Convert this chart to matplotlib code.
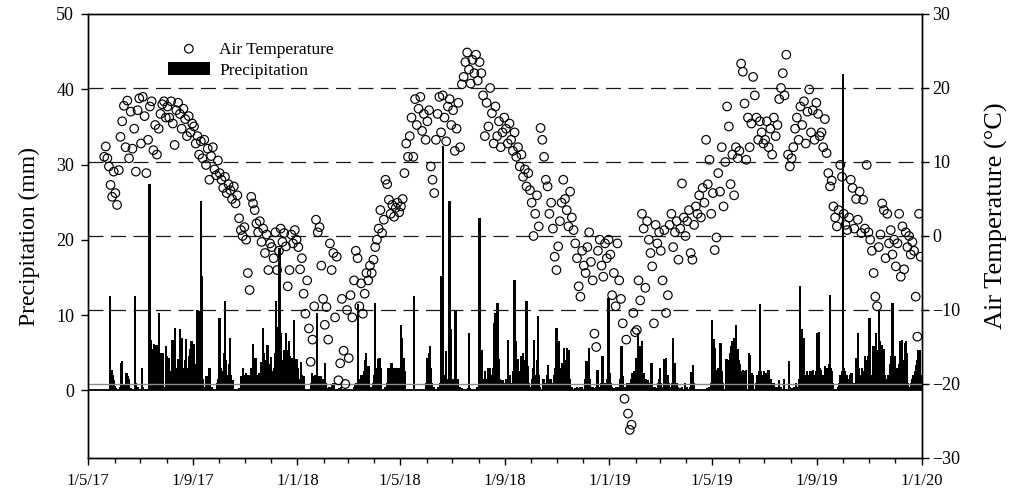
import numpy as np
import pandas as pd
import matplotlib
matplotlib.use("Agg")
import matplotlib.pyplot as plt
import matplotlib.dates as mdates
from matplotlib.ticker import FuncFormatter

plt.rcParams['font.family'] = ['Liberation Serif', 'DejaVu Serif']

# ---------------- data ----------------
origin = pd.Timestamp('2017-05-01')
first_temp_day = pd.Timestamp('2017-05-19')

# Air temperature (deg C), one list per month (values spread over the month)
temp_2017 = [
    [10.7, 12.1, 10.5, 9.4, 6.9, 5.3, 8.7],  # May (from 19th)
    [5.8, 4.2, 8.9, 13.4, 15.5, 17.6, 12.0, 18.3, 10.5, 16.8, 11.8, 14.5, 8.7, 17.0, 18.6],
    [12.5, 18.8, 16.2, 8.5, 13.0, 17.5, 18.2, 11.6, 15.0, 11.0, 14.5, 16.5, 17.8, 18.2, 16.0],
    [17.5, 16.0, 18.2, 15.2, 12.3, 17.0, 18.0, 16.5, 14.5, 17.2, 15.8, 13.5, 16.2, 14.0, 15.2],
    [14.8, 12.5, 13.5, 11.0, 12.8, 10.5, 13.0, 9.6, 11.8, 7.6, 10.8, 12.0, 9.0, 8.2, 10.2],
    [8.5, 7.6, 6.5, 8.0, 5.8, 7.0, 6.2, 5.0, 6.7, 4.4, 5.5, 2.4, 0.8, 0.0, 1.2],
    [-0.5, -5.0, -7.3, 5.3, 4.4, 3.5, 1.7, 0.5, 2.0, -0.8, 1.0, -2.3, 0.2, -4.6, -1.0],
    [-1.5, -3.0, 0.5, -4.6, -2.0, 1.0, -0.8, 0.4, -1.4, -6.8, -4.6, 0.2, -1.0, 0.8, -0.5],
]
temp_2018 = [
    [-1.5, -4.5, -3.0, -7.8, -10.5, -6.0, -12.5, -17.0, -14.0, -9.5, 2.2, 0.5, 1.2, -4.0, -8.5],
    [-12.0, -9.6, -14.0, -1.0, -4.6, -2.3, -11.0, -2.8, -19.5, -17.2, -8.5, -15.5, -20.0, -10.0],
    [-16.5, -8.0, -11.0, -6.0, -2.0, -3.0, -9.5, -6.4, -10.5, -7.8, -5.0, -6.0, -4.0, -5.0, -3.2],
    [-1.5, -0.5, 1.0, 3.5, 0.4, 2.2, 7.6, 7.0, 4.9, 3.0, 4.2, 2.6, 3.8, 4.5, 3.2],
    [4.0, 5.0, 8.5, 12.5, 10.7, 13.5, 16.0, 10.7, 18.5, 15.0, 17.2, 18.8, 14.2, 16.5, 13.0],
    [15.5, 17.0, 9.4, 7.6, 5.8, 13.0, 16.5, 18.8, 14.0, 19.0, 16.0, 12.8, 17.5, 18.5, 15.0],
    [17.0, 11.5, 14.5, 18.0, 12.0, 20.5, 21.5, 23.5, 24.8, 22.5, 20.6, 23.8, 22.0, 24.5, 21.0],
    [23.5, 22.0, 19.0, 13.5, 18.0, 14.8, 20.0, 16.6, 12.5, 17.5, 13.5, 15.5, 12.0, 14.0, 16.0],
    [14.5, 12.5, 15.2, 13.0, 11.5, 14.0, 10.7, 12.0, 9.4, 11.0, 8.0, 9.0, 6.7, 8.5, 6.2],
    [4.5, 0.0, 3.0, 5.5, 1.3, 14.6, 13.0, 10.7, 7.6, 6.7, 3.0, 4.5, 1.0, -2.8, -4.6],
    [-1.4, 2.0, 4.5, 7.6, 5.0, 3.5, 1.3, 6.0, 2.5, 0.8, -1.0, -3.0, -6.8, -8.2, -2.0],
    [-4.0, -5.0, -1.5, 0.5, -3.5, -6.0, -13.2, -15.0, -2.0, -0.5, -4.0, -5.5, -1.0, -3.0, -0.5],
]
temp_2019 = [
    [-2.5, -8.0, -5.0, -9.5, -1.0, -6.0, -8.5, -11.8, -22.0, -14.0, -24.0, -26.2, -25.5, -10.4, -13.0],
    [-12.7, -6.0, -8.7, 3.0, 1.0, -7.0, 2.0, -0.5, -2.3, -4.1, -11.8, 1.5, -1.0, 0.5],
    [-2.0, -6.0, 0.8, -10.4, -8.0, 1.5, 3.0, -1.5, 0.5, 2.0, -3.2, 1.0, 7.1, 2.5, 0.0],
    [2.0, 3.5, -2.3, -3.2, 1.5, 4.0, 3.0, 5.5, 2.5, 6.5, 4.5, 13.0, 7.0, 10.3, 3.0],
    [5.8, -1.9, -0.2, 8.5, 6.0, 12.0, 4.0, 10.0, 17.5, 14.8, 7.0, 11.0, 5.5, 12.0, 10.5],
    [11.5, 23.3, 22.2, 17.9, 10.3, 16.0, 12.0, 15.2, 21.5, 19.0, 16.0, 13.0, 15.5, 14.0, 12.5],
    [13.0, 15.5, 12.0, 14.5, 11.0, 16.0, 13.5, 15.0, 18.5, 20.0, 22.0, 19.0, 24.5, 11.0, 9.4],
    [10.5, 12.0, 14.5, 16.0, 13.0, 17.5, 15.0, 18.2, 12.5, 16.8, 19.8, 14.0, 17.0, 13.0, 18.0],
    [16.5, 13.5, 14.0, 12.0, 15.8, 11.2, 8.5, 6.7, 7.5, 4.0, 2.5, 1.3, 3.5, 9.6, 8.0],
    [3.0, 1.5, 0.8, 2.5, 7.6, 6.5, 1.0, 5.0, 2.2, 6.0, 0.4, 4.9, 1.0, 9.6, 0.5],
    [-0.5, -2.0, -5.0, -8.2, -9.5, -1.5, 0.2, 4.4, 3.5, -3.0, 3.0, -1.0, 0.8, -2.5, -0.5],
    [-4.1, -1.0, 3.0, -5.5, 1.3, -4.5, 0.5, -1.5, 0.0, -2.5, -0.8, -2.0, -8.2, -13.6, 3.0, -2.8],
]

# Daily precipitation (mm): (day since 1 May 2017, amount)
rain_2017 = [(26,12.5),(27,2.5),(28,2.7),(29,2.0),(30,1.4),(31,0.6),(33,0.3),(38,0.4),(39,3.6),(40,3.9),(42,0.8),(45,2.3),(46,1.0),(47,1.9),(48,1.5),(50,0.3),(55,12.5),(56,1.0),(58,0.5),(63,3.0),(64,0.4),(71,10.3),(72,27.4),(73,5.5),(74,6.7),(75,5.2),(76,5.5),(77,6.2),(78,5.0),(79,4.5),(80,6.0),(81,3.0),(82,2.0),(83,10.3),(84,5.0),(85,3.5),(86,1.5),(87,5.0),(89,0.5),(91,5.9),(92,4.5),(93,2.0),(95,4.3),(96,2.5),(97,1.0),(99,6.7),(100,2.0),(102,8.3),(103,3.0),(104,1.5),(105,4.1),(106,2.5),(108,8.1),(110,7.0),(111,3.0),(112,1.5),(114,4.0),(115,6.8),(117,3.0),(118,4.5),(120,5.5),(121,6.5),(122,2.0),(124,6.2),(127,3.5),(128,10.7),(129,5.0),(130,10.5),(131,8.0),(132,25.1),(133,15.2),(134,1.5),(136,0.5),(138,1.9),(139,0.8),(141,1.9),(142,3.0),(143,0.5),(145,0.5),(151,1.0),(152,1.5),(153,2.0),(154,9.6),(155,3.0),(156,1.5),(158,2.5),(159,5.0),(160,11.8),(161,4.0),(163,2.0),(165,3.5),(166,7.0),(167,2.0),(169,1.4),(177,0.3),(179,1.9),(181,3.0),(182,1.0),(183,2.0),(184,1.5),(185,2.3),(186,2.0),(187,1.4),(188,2.0),(189,1.0),(191,3.0),(193,6.1),(194,3.0),(195,2.5),(196,4.3),(197,2.0),(198,1.5),(200,2.3),(201,1.0),(202,3.7),(203,2.0),(205,8.3),(206,5.0),(207,3.0),(208,4.0),(210,6.0),(211,3.5),(212,2.5),(213,3.0),(214,4.4),(215,2.0),(216,2.5),(217,1.5),(218,3.0),(219,5.0),(220,11.8),(221,8.4),(222,7.0),(223,5.0),(224,18.9),(225,6.0),(226,7.6),(227,4.0),(228,3.0),(229,5.0),(230,5.4),(231,3.5),(232,7.6),(233,4.0),(234,5.4),(235,6.5),(236,4.5),(237,3.0),(238,4.3),(239,2.5),(240,3.0),(241,9.4),(242,4.0),(243,2.0),(244,4.1)]
rain_2018 = [(245,3.0),(247,1.5),(249,3.8),(250,2.0),(252,1.0),(253,1.9),(261,1.0),(262,2.3),(263,1.5),(264,1.9),(265,1.4),(266,2.0),(267,1.5),(268,10.3),(269,1.5),(270,1.9),(271,1.0),(272,1.9),(274,1.5),(276,1.5),(277,3.6),(278,1.0),(280,0.3),(282,0.5),(284,0.4),(286,0.8),(287,1.0),(294,0.3),(296,0.4),(301,0.3),(311,0.5),(313,0.8),(314,1.0),(315,0.6),(316,11.4),(317,1.5),(319,1.4),(320,2.0),(321,1.0),(323,2.5),(324,4.0),(325,5.0),(326,3.0),(327,2.0),(328,3.2),(329,1.0),(331,0.5),(334,1.0),(335,2.0),(336,11.6),(337,3.0),(338,2.0),(339,4.1),(340,2.5),(341,4.3),(342,3.0),(343,1.0),(348,0.5),(350,1.0),(351,3.0),(352,1.5),(354,3.0),(355,3.6),(356,1.0),(358,3.0),(359,2.5),(360,3.0),(361,2.0),(362,3.0),(363,2.5),(364,3.0),(365,1.5),(366,8.7),(367,7.0),(368,3.0),(369,4.3),(370,2.0),(371,2.5),(381,12.5),(396,1.0),(397,4.3),(398,2.0),(399,5.0),(400,5.9),(401,3.0),(402,1.0),(404,0.4),(405,0.3),(410,0.5),(412,1.0),(413,15.2),(414,1.5),(415,32.5),(416,2.0),(417,1.0),(419,5.2),(420,1.5),(421,1.0),(423,25.1),(424,1.5),(425,8.1),(426,1.5),(427,1.0),(428,1.5),(429,1.0),(430,10.5),(431,1.5),(432,1.0),(433,1.5),(435,0.5),(437,0.3),(445,0.3),(446,7.6),(447,0.3),(455,0.5),(457,1.0),(458,22.9),(459,2.0),(460,1.0),(461,5.4),(462,1.5),(463,1.0),(464,2.5),(465,1.0),(467,1.5),(468,3.0),(469,1.0),(470,3.0),(471,0.5),(472,1.0),(473,2.0),(474,3.0),(475,9.0),(476,10.3),(477,3.0),(478,4.5),(479,11.6),(480,2.0),(481,4.1),(482,1.5),(483,1.0),(484,0.5),(485,1.4),(486,0.5),(487,1.0),(489,1.5),(491,6.7),(492,1.0),(493,0.5),(494,2.0),(495,1.0),(496,0.5),(497,2.5),(498,6.5),(499,14.7),(500,6.5),(501,4.0),(502,3.0),(503,4.1),(504,2.0),(505,1.5),(506,2.5),(507,4.5),(508,3.0),(509,5.0),(510,3.5),(511,4.0),(512,2.0),(513,11.8),(514,3.2),(515,2.0),(516,1.0),(517,0.5),(519,0.5),(520,1.5),(521,3.0),(522,6.7),(523,2.0),(524,1.0),(525,4.0),(526,9.9),(527,2.0),(528,0.5),(532,1.0),(533,1.5),(534,1.0),(535,0.5),(536,1.0),(537,2.0),(538,3.4),(539,1.0),(541,1.5),(542,0.5),(543,1.0),(545,2.0),(546,1.5),(547,3.0),(548,8.3),(549,4.0),(550,3.0),(551,6.5),(552,2.0),(553,3.0),(554,2.0),(555,3.6),(556,2.5),(557,5.6),(558,4.0),(559,3.0),(560,5.6),(561,2.0),(562,5.4),(563,2.0),(564,1.5),(566,0.5),(570,0.3),(572,0.5),(574,0.3),(576,0.4),(578,0.5),(581,1.0),(582,1.5),(583,3.9),(584,1.0),(585,2.0),(586,5.6),(587,1.5),(588,0.5),(590,0.5),(592,0.3),(594,0.5),(596,2.7),(597,0.5),(600,1.0),(601,1.5),(602,4.5),(603,1.0),(604,0.5),(606,1.0),(607,1.5),(608,2.0),(609,12.3)]
rain_2019 = [(610,2.0),(611,2.3),(612,1.0),(613,0.5),(616,0.3),(618,0.5),(620,0.4),(622,1.0),(623,1.5),(624,5.9),(625,1.0),(626,1.9),(627,0.5),(629,0.5),(631,1.0),(634,1.0),(635,1.5),(636,2.3),(637,1.0),(638,1.5),(639,2.5),(640,2.0),(641,4.3),(642,3.0),(643,7.6),(644,3.0),(645,5.9),(646,2.0),(647,3.0),(648,6.5),(649,2.0),(650,2.3),(651,1.0),(652,1.5),(653,0.5),(654,1.0),(655,1.4),(656,0.5),(657,1.0),(658,0.5),(659,3.6),(660,1.0),(661,0.5),(663,0.5),(665,0.3),(667,1.0),(668,1.5),(669,3.0),(670,1.0),(672,0.5),(674,4.1),(675,1.5),(676,4.3),(677,1.5),(678,2.0),(679,1.0),(681,0.5),(683,1.0),(684,7.0),(685,2.5),(686,3.6),(687,1.0),(688,0.5),(689,1.0),(690,0.5),(693,0.3),(695,0.5),(698,1.0),(699,0.5),(701,0.4),(704,0.5),(706,2.4),(707,1.0),(708,3.4),(709,1.0),(724,0.3),(727,0.5),(729,1.0),(730,9.4),(731,2.0),(732,6.8),(733,5.6),(734,2.0),(735,2.7),(736,1.5),(737,3.0),(738,2.0),(739,1.0),(740,6.3),(741,1.5),(742,2.5),(743,1.0),(746,1.5),(747,4.1),(748,2.5),(749,4.0),(750,3.0),(751,5.0),(752,5.9),(753,4.5),(754,6.5),(755,5.5),(756,7.0),(757,4.0),(758,8.7),(759,5.0),(760,5.5),(761,4.0),(762,3.5),(763,3.0),(764,2.5),(765,1.5),(766,2.7),(767,2.0),(768,2.5),(769,1.5),(770,2.7),(773,5.0),(774,4.7),(775,1.5),(776,2.3),(777,1.0),(778,2.0),(782,1.0),(783,2.0),(784,1.5),(785,2.5),(786,11.4),(787,2.5),(788,1.8),(789,1.5),(790,2.0),(791,2.5),(792,1.0),(793,2.3),(794,1.5),(795,1.0),(796,2.7),(797,2.0),(798,1.0),(799,1.5),(800,1.0),(801,0.5),(802,1.0),(803,0.5),(806,0.5),(808,1.4),(810,0.5),(814,1.5),(820,3.9),(821,0.5),(824,0.3),(826,0.5),(828,1.0),(830,0.5),(832,1.5),(833,13.8),(834,2.0),(835,8.1),(836,2.5),(837,7.0),(838,2.0),(839,1.5),(840,1.0),(841,2.5),(842,1.5),(843,2.0),(844,1.0),(845,2.5),(846,1.0),(847,1.5),(848,2.7),(849,2.0),(850,1.0),(851,2.0),(852,2.5),(853,7.6),(854,2.0),(855,7.8),(856,3.0),(857,2.7),(858,1.5),(859,1.0),(860,2.0),(861,1.5),(862,3.2),(863,2.0),(864,3.0),(865,1.5),(866,2.0),(867,3.5),(868,12.7),(869,3.0),(870,2.5),(871,1.0),(877,0.5),(879,1.0),(880,2.0),(881,1.5),(882,2.5),(883,42.0),(884,3.0),(885,2.5),(886,1.5),(887,1.0),(888,2.0),(889,1.5),(890,1.0),(891,2.0),(892,1.0),(893,2.3),(896,1.0),(898,1.5),(899,4.3),(900,2.0),(901,7.6),(902,3.0),(903,1.5),(904,2.0),(905,3.0),(906,2.5),(907,1.5),(908,2.0),(909,4.5),(910,3.0),(911,4.0),(912,2.5),(913,4.5),(914,9.6),(915,3.0),(916,2.0),(917,1.5),(918,2.0),(919,5.9),(920,3.5),(921,2.0),(922,7.6),(923,4.0),(924,5.4),(925,10.5),(926,6.5),(927,5.0),(928,4.5),(929,6.0),(930,3.0),(931,5.5),(932,2.0),(933,1.5),(934,1.0),(935,1.5),(936,2.0),(937,1.0),(938,3.5),(939,4.5),(940,3.0),(941,11.6),(942,4.0),(943,3.0),(944,4.5),(945,2.5),(946,3.0),(947,1.5),(948,2.0),(949,3.5),(950,6.6),(951,4.0),(952,6.7),(953,3.0),(954,2.0),(955,4.0),(956,6.3),(957,6.5),(958,5.0),(959,1.0),(961,0.5),(963,1.0),(964,1.5),(965,2.0),(966,1.0),(967,2.5),(968,2.0),(969,3.4),(970,4.0),(971,5.4),(972,3.0),(973,5.4),(974,2.0)]

ref_temp_lines = [20, 10, 0, -10]
x_labels_fmt = "{d}/{m}/{y}"

# ---------------- build series ----------------
t_dates, t_vals = [], []
for year, months in ((2017, temp_2017), (2018, temp_2018), (2019, temp_2019)):
    first_month = 5 if year == 2017 else 1
    for i, mv in enumerate(months):
        m = first_month + i
        start = pd.Timestamp(year, m, 1)
        end = start + pd.offsets.MonthBegin(1)
        if year == 2017 and m == 5:
            start = first_temp_day
        span = (end - start).days
        for k, v in enumerate(mv):
            t_dates.append(start + pd.Timedelta(days=(k + 0.5) * span / len(mv)))
            t_vals.append(v)

rain = rain_2017 + rain_2018 + rain_2019
p_dates = [origin + pd.Timedelta(days=d) for d, _ in rain]
p_vals = [v for _, v in rain]

# ---------------- figure ----------------
W, H = 1013, 495
fig = plt.figure(figsize=(W / 100, H / 100), dpi=100)
L, R, T, B = 88, 921.5, 14, 458
ax = fig.add_axes([L / W, 1 - B / H, (R - L) / W, (B - T) / H])
ax2 = ax.twinx()

bars = ax.bar(p_dates, p_vals, width=2.7, color='black', linewidth=0, zorder=3,
              label='Precipitation')
ax.axhline(0, color='black', lw=1.3, zorder=4)
ax.set_xlim(pd.Timestamp('2017-05-01'), pd.Timestamp('2020-01-01'))
ax.set_ylim(-9, 50)
ax.set_yticks(range(0, 51, 10))

for y in ref_temp_lines:
    ax2.axhline(y, color='#1a1a1a', lw=0.9, dashes=(12, 6), zorder=1)
ax2.axhline(-20, color='#8c8c8c', lw=1.0, zorder=2)
sc = ax2.scatter(t_dates, t_vals, s=38, facecolors='none', edgecolors='black',
                 linewidths=0.85, zorder=5, label='Air Temperature')
ax2.set_ylim(-30, 30)
ax2.set_yticks(range(-30, 31, 10))

ax.xaxis.set_major_locator(mdates.MonthLocator(bymonth=[1, 5, 9]))
ax.xaxis.set_minor_locator(mdates.MonthLocator())


def fmt(x, pos):
    d = mdates.num2date(x)
    return x_labels_fmt.format(d=d.day, m=d.month, y=d.year % 100)


ax.xaxis.set_major_formatter(FuncFormatter(fmt))

for a in (ax, ax2):
    for s in a.spines.values():
        s.set_linewidth(1.0)
ax.tick_params(axis='x', which='major', length=5, width=1, direction='out', labelsize=12, pad=6)
ax.tick_params(axis='x', which='minor', length=3.5, width=1, direction='out')
ax.tick_params(axis='y', length=5, width=1, direction='out', labelsize=13, pad=5)
ax2.tick_params(axis='y', length=5, width=1, direction='out', labelsize=13, pad=3)

ax.set_ylabel('Precipitation (mm)', fontsize=17)
ax.yaxis.set_label_coords(-0.058, 0.5)
ax2.set_ylabel('Air Temperature (°C)', fontsize=19)
ax2.yaxis.set_label_coords(1.076, 0.545)

leg = ax2.legend([sc, bars], ['Air Temperature', 'Precipitation'], loc='upper left',
                 bbox_to_anchor=((168 - L) / (R - L), 1 - (41 - T) / (B - T)),
                 frameon=False, fontsize=12.5, handlelength=2.4, handleheight=0.84,
                 handletextpad=0.55, labelspacing=0.22, borderpad=0, borderaxespad=0,
                 scatterpoints=1)

fig.savefig('out.png', dpi=100)
